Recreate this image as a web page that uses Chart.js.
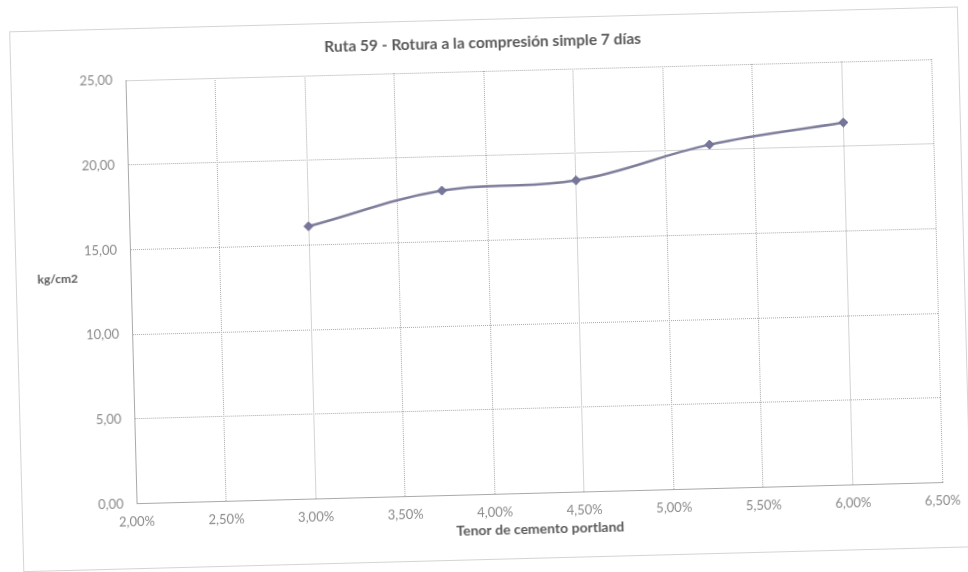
<!DOCTYPE html>
<html>
<head>
<meta charset="utf-8">
<script src="https://cdn.jsdelivr.net/npm/chart.js@4.4.1/dist/chart.umd.min.js"></script>
<style>
  html, body { margin: 0; padding: 0; background: #ffffff; overflow: hidden; }
  #wrap {
    position: absolute; left: 0; top: 0; width: 968px; height: 572px;
    transform: rotate(-1.5deg); transform-origin: 484px 286px;
  }
  canvas { display: block; }
</style>
</head>
<body>
<div id="wrap"><canvas id="c" width="968" height="572"></canvas></div>
<script>
// Cement content (%) and 7-day unconfined compressive strength (kg/cm2)
const cementContent = [3.00, 3.75, 4.50, 5.25, 6.00];
const strength7d = [16.1, 18.0, 18.4, 20.3, 21.4];

const xTickLabels = ['2,00%', '2,50%', '3,00%', '3,50%', '4,00%', '4,50%', '5,00%', '5,50%', '6,00%', '6,50%'];
const yTickLabels = ['0,00', '5,00', '10,00', '15,00', '20,00', '25,00'];

const chartTitle = 'Ruta 59 - Rotura a la compresión simple 7 días';
const xAxisTitle = 'Tenor de cemento portland';
const yAxisTitle = 'kg/cm2';

const FONT = "Lato, 'Open Sans', 'Liberation Sans', sans-serif";
const GRID = '#a9a9a9';
const LINE = '#7e7e9c';

// Outer frame, chart title and horizontal axis titles
const decorations = {
  id: 'decorations',
  beforeDraw(chart) {
    const ctx = chart.ctx;
    ctx.save();
    ctx.strokeStyle = GRID;
    ctx.lineWidth = 1;
    ctx.setLineDash([1, 1]);
    ctx.strokeRect(16.5, 19.5, 948, 540);
    ctx.restore();
  },
  afterDraw(chart) {
    const ctx = chart.ctx;
    const a = chart.chartArea;
    ctx.save();
    ctx.textAlign = 'center';
    ctx.textBaseline = 'middle';
    ctx.fillStyle = '#5a5a5a';
    ctx.font = "bold 15.5px " + FONT;
    ctx.fillText(chartTitle, 489, 43);
    ctx.font = "bold 14px " + FONT;
    ctx.fillText(xAxisTitle, (a.left + a.right) / 2, 530);
    ctx.font = "bold 12px " + FONT;
    ctx.fillText(yAxisTitle, 58, 268);
    ctx.restore();
  }
};

new Chart(document.getElementById('c'), {
  type: 'line',
  data: {
    datasets: [{
      data: cementContent.map((x, i) => ({ x: x, y: strength7d[i] })),
      borderColor: LINE,
      backgroundColor: LINE,
      borderWidth: 2.5,
      tension: 0.4,
      pointStyle: 'rectRot',
      pointRadius: 4.5,
      pointBorderWidth: 1,
      pointBackgroundColor: '#76769a',
      pointBorderColor: '#6e6e90',
      fill: false
    }]
  },
  options: {
    responsive: false,
    animation: false,
    layout: { padding: { left: 0, top: 71, right: 31, bottom: 0 } },
    plugins: {
      legend: { display: false },
      title: { display: false },
      tooltip: { enabled: false }
    },
    scales: {
      x: {
        type: 'linear',
        min: 2,
        max: 6.5,
        afterFit(scale) { scale.height = 77.5; },
        ticks: {
          stepSize: 0.5,
          autoSkip: false,
          maxRotation: 0,
          padding: 11,
          color: '#8a8a8a',
          font: { family: FONT, size: 13 },
          callback: (v, i) => xTickLabels[i]
        },
        grid: { color: GRID, drawTicks: false, lineWidth: 1 },
        border: { color: GRID, dash: [1, 1] }
      },
      y: {
        min: 0,
        max: 25,
        afterFit(scale) { scale.width = 131; },
        ticks: {
          stepSize: 5,
          padding: 13,
          color: '#8a8a8a',
          font: { family: FONT, size: 13 },
          callback: (v, i) => yTickLabels[i]
        },
        grid: { color: GRID, drawTicks: false, lineWidth: 1 },
        border: { color: GRID, dash: [1, 1] }
      }
    }
  },
  plugins: [decorations]
});
</script>
</body>
</html>
